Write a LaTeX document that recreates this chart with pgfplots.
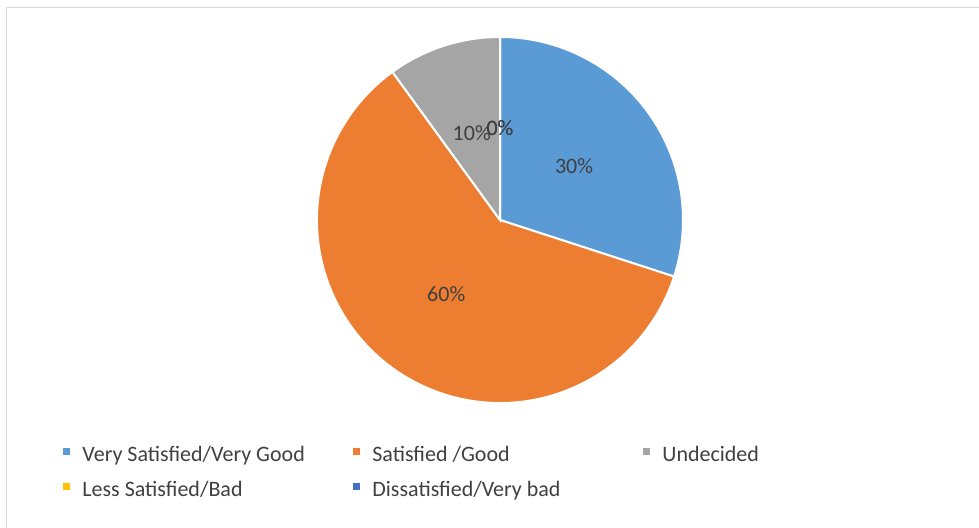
\documentclass[border=0pt]{standalone}
\usepackage{fontspec}
\setmainfont{Carlito}
\usepackage{pgfplots}
\pgfplotsset{compat=1.18}
\definecolor{cBlue}{HTML}{5B9BD5}
\definecolor{cOrange}{HTML}{ED7D31}
\definecolor{cGray}{HTML}{A5A5A5}
\definecolor{cYellow}{HTML}{FFC000}
\definecolor{cDBlue}{HTML}{4472C4}
\definecolor{txt}{HTML}{404040}
\definecolor{frame}{HTML}{D9D9D9}
\begin{document}
\begin{tikzpicture}
\def\R{91.5pt}
\begin{axis}[
  hide axis, scale only axis, clip=false,
  width=489.5pt, height=264pt,
  xmin=0, xmax=979, ymin=0, ymax=528,
  legend columns=3,
  legend image code/.code={\fill[#1, draw=none] (0pt,-1.75pt) rectangle (3.5pt,1.75pt);},
  legend style={draw=none, fill=none, inner sep=0pt, at={(axis cs:62.5,87.3)}, anchor=north west,
    font=\fontsize{11}{13}\selectfont, text=txt,
    nodes={inner sep=0pt, text height=10pt, text depth=0.8pt, anchor=west},
    row sep=6.7pt,
    /tikz/every odd column/.append style={column sep=6.25pt},
    /tikz/every even column/.append style={column sep=0pt}},
]
\addlegendimage{fill=cBlue, draw=none}
\addlegendentry{\makebox[135.25pt][l]{Very Satisfied/Very Good}}
\addlegendimage{fill=cOrange, draw=none}
\addlegendentry{\makebox[135.25pt][l]{Satisfied /Good}}
\addlegendimage{fill=cGray, draw=none}
\addlegendentry{\makebox[135.25pt][l]{Undecided}}
\addlegendimage{fill=cYellow, draw=none}
\addlegendentry{\makebox[135.25pt][l]{Less Satisfied/Bad}}
\addlegendimage{fill=cDBlue, draw=none}
\addlegendentry{\makebox[135.25pt][l]{Dissatisfied/Very bad}}
\draw[frame, line width=0.75pt] (axis cs:6.5,0) -- (axis cs:6.5,520.5) -- (axis cs:979,520.5);
\pgfplotsextra{
  \gdef\cum{0}
  \foreach \v/\c in {30/cBlue,60/cOrange,10/cGray,0/cYellow,0/cDBlue}{
    \pgfmathsetmacro\a{90-3.6*\cum}
    \pgfmathsetmacro\b{90-3.6*(\cum+\v)}
    \ifdim\v pt>0pt
      \fill[\c, draw=white, line width=1pt] (axis cs:500,308) -- ++(\a:\R) arc[start angle=\a, end angle=\b, radius=\R] -- cycle;
    \fi
    \pgfmathsetmacro\cumnew{\cum+\v}
    \global\let\cum\cumnew
  }
  \gdef\cum{0}
  \foreach \v in {30,60,10,0,0}{
    \pgfmathsetmacro\a{90-3.6*\cum}
    \pgfmathsetmacro\b{90-3.6*(\cum+\v)}
    \pgfmathsetmacro\m{(\a+\b)/2}
    \path (axis cs:500,308) ++(\m:45.75pt) node[font=\fontsize{11}{13}\selectfont, text=txt, inner sep=0pt] {\v\%};
    \pgfmathsetmacro\cumnew{\cum+\v}
    \global\let\cum\cumnew
  }
}
\end{axis}
\pgfresetboundingbox
\path (0,0) rectangle (489.5pt,264pt);
\end{tikzpicture}
\end{document}
